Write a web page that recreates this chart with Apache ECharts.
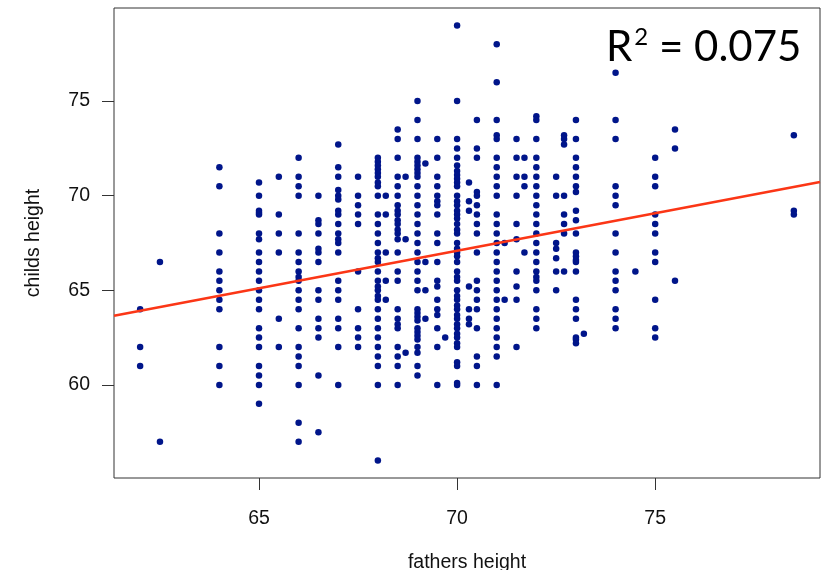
<!DOCTYPE html>
<html>
<head>
<meta charset="utf-8">
<script src="https://cdn.jsdelivr.net/npm/echarts@6/dist/echarts.min.js"></script>
<style>
  html, body { margin: 0; padding: 0; background: #fff; }
  #chart { width: 833px; height: 570px; }
</style>
</head>
<body>
<div id="chart"></div>
<script>
// Father heights (inches), one entry per column of points
const fatherLevels = [62, 62.5, 64, 65, 65.5, 66, 66.5, 67, 67.5, 68, 68.2, 68.5, 68.7, 69, 69.2, 69.5, 69.7,
  70, 70.3, 70.5, 71, 71.2, 71.5, 71.7, 72, 72.5, 72.7, 73, 73.2, 74, 74.5, 75, 75.5, 78.5];

// Child heights (inches) observed for each father height above
const childByFather = [
  [64, 62, 61],
  [66.5, 57],
  [71.5, 70.5, 68, 67, 66, 65.5, 65, 64.5, 64, 62, 61, 60],
  [70.7, 70, 69.2, 69.1, 69, 68, 67.7, 67, 66.5, 66, 65.5, 65, 64.5, 64, 63, 62.5, 62, 61, 60.5, 60, 59],
  [71, 69, 68, 67, 63.5, 62],
  [72, 71, 70.5, 70, 68, 67, 66.5, 66, 65.7, 65.5, 65, 64.5, 64, 63, 62, 61.5, 61, 60, 58, 57],
  [70, 68.7, 68.5, 68, 67.2, 67, 66.5, 65, 64.5, 63.5, 63, 62.5, 60.5, 57.5],
  [72.7, 71.5, 71, 70.3, 70, 69.8, 69.2, 69, 68.5, 68, 67.7, 67.5, 67, 65.5, 65, 64.5, 63.5, 63, 62, 60],
  [71, 70, 69.5, 69, 68.5, 66, 64, 63, 62.5, 62],
  [72, 71.8, 71.6, 71.4, 71.2, 71, 70.7, 70.5, 70, 69, 68.5, 68, 67.5, 67, 66.7, 66.5, 66, 65.5, 65.2, 65,
    64.7, 64.5, 64, 63.5, 63, 62.5, 62, 61.5, 61, 60, 56],
  [70, 69, 67, 65.5, 64.5],
  [73.5, 73, 72, 71, 70.5, 70, 69.5, 69.2, 69, 68.7, 68.5, 68.2, 68, 67.7, 67, 66, 65.5, 64, 63.5, 63.2, 63,
    62, 61.5, 61, 60],
  [71, 67.7, 61.7],
  [75, 74, 73, 72, 71.8, 71.6, 71.4, 71.2, 71, 70.5, 70, 69.5, 69, 68.5, 68, 67.5, 67, 66.5, 66, 65.5, 65,
    64, 63.8, 63.6, 63.4, 63, 62.8, 62.6, 62.4, 62, 61.7, 61, 60.5],
  [71.7, 66.5, 65, 63.5],
  [73, 72, 71, 70.5, 70, 69.7, 69.5, 69, 68, 67.5, 66.5, 65.5, 65.2, 64.5, 64, 63.7, 63, 62, 60],
  [62.5],
  [79, 75, 73, 72.5, 72, 71.6, 71.3, 71.1, 70.9, 70.7, 70.5, 70, 69.7, 69.5, 69.2, 69, 68.8, 68.5, 68.2, 68,
    67.5, 67.2, 67, 66.8, 66.5, 66, 65.7, 65.5, 65, 64.7, 64.5, 64.2, 64, 63.7, 63.5, 63.2, 63, 62.7, 62.5,
    62.2, 62, 61.2, 61, 60.1, 60],
  [70.7, 69.7, 69.2, 65.2, 64, 63.5, 63.2],
  [74, 72.5, 72, 70.2, 70, 69.5, 69, 68.5, 68, 67, 65.5, 65, 64.5, 64, 63, 61.5, 61, 60],
  [78, 76, 74, 73.2, 73, 72, 71.5, 71, 70.5, 70, 69, 68.5, 68, 67.5, 67, 66.5, 66, 65.5, 65, 64.5, 64, 63.5,
    63, 62.5, 62, 61.5, 60],
  [67.5, 64.5],
  [73, 72, 71, 70, 68.5, 67.7, 66, 65.2, 64.5, 62],
  [72, 71, 70.5, 67],
  [74.2, 74, 73, 72, 71.5, 71, 70.5, 70, 69.5, 69, 68.5, 68, 67.5, 67, 66.5, 66, 65.7, 65.5, 65, 64, 63.5, 63],
  [71, 70, 67.5, 67.2, 66.7, 66, 65],
  [73.2, 73, 72.7, 70, 69, 68.5, 68, 66],
  [74, 73, 72, 71.5, 71, 70.5, 70.2, 69.2, 68.7, 68, 67, 66.8, 66.6, 66.5, 66, 64.5, 64, 63.5, 62.5, 62.4, 62.2],
  [62.7],
  [76.5, 74, 73, 70.5, 70, 69.5, 68, 67, 66, 65.5, 65, 64, 63.5, 63],
  [66],
  [72, 71, 70.5, 69, 68.5, 68, 67, 66.5, 64.5, 63, 62.5],
  [73.5, 72.5, 65.5],
  [73.2, 69.2, 69]
];

// Least-squares fit of child height on father height
const fitIntercept = 39.3;
const fitSlope = 0.397;
const rSquaredText = '0.075';

// Axis ranges and tick labels
const xRange = [61.34, 79.16];
const yRange = [55.08, 79.92];
const xTicks = [65, 70, 75];
const yTicks = [60, 65, 70, 75];

const points = [];
fatherLevels.forEach((f, i) => {
  childByFather[i].forEach(c => points.push([f, c]));
});
const fitLine = xRange.map(x => [x, fitIntercept + fitSlope * x]);

const axisFont = "'Liberation Sans', Arial, sans-serif";
const chart = echarts.init(document.getElementById('chart'), null, { renderer: 'canvas' });

chart.setOption({
  animation: false,
  backgroundColor: '#ffffff',
  grid: {
    left: 114, top: 8, width: 706, height: 470,
    outerBoundsMode: 'none',
    containLabel: false,
    show: true, borderColor: '#333', borderWidth: 1, backgroundColor: 'transparent'
  },
  xAxis: {
    type: 'value',
    min: xRange[0], max: xRange[1],
    name: 'fathers height',
    nameLocation: 'middle',
    nameGap: 75,
    nameTextStyle: { fontFamily: axisFont, fontSize: 19.5, color: '#111' },
    axisLine: { show: false },
    splitLine: { show: false },
    axisTick: { show: true, inside: false, length: 12, customValues: xTicks, lineStyle: { color: '#333', width: 1 } },
    axisLabel: { customValues: xTicks, margin: 31, fontFamily: axisFont, fontSize: 19.5, color: '#111' }
  },
  yAxis: {
    type: 'value',
    min: yRange[0], max: yRange[1],
    name: 'childs height',
    nameLocation: 'middle',
    nameGap: 70,
    nameRotate: 90,
    nameTextStyle: { fontFamily: axisFont, fontSize: 19.5, color: '#111' },
    axisLine: { show: false },
    splitLine: { show: false },
    axisTick: { show: true, inside: false, length: 12, customValues: yTicks, lineStyle: { color: '#333', width: 1 } },
    axisLabel: { customValues: yTicks, margin: 24, fontFamily: axisFont, fontSize: 19.5, color: '#111' }
  },
  series: [
    {
      type: 'scatter',
      data: points,
      symbol: 'circle',
      symbolSize: 6.5,
      itemStyle: { color: '#00158a', opacity: 1 },
      z: 2
    },
    {
      type: 'line',
      data: fitLine,
      showSymbol: false,
      symbol: 'none',
      lineStyle: { color: '#fb3616', width: 2.5 },
      clip: true,
      z: 3
    }
  ],
  graphic: [
    {
      type: 'text',
      x: 606,
      y: 22,
      z: 10,
      style: {
        text: '{a|R}{b|2}{a| = ' + rSquaredText + '}',
        fill: '#000',
        rich: {
          a: { fontFamily: 'Lato, "Open Sans", sans-serif', fontSize: 42, lineHeight: 50, fill: '#000' },
          b: { fontFamily: 'Lato, "Open Sans", sans-serif', fontSize: 24, lineHeight: 50, verticalAlign: 'top', padding: [3, 0, 0, 2], fill: '#000' }
        }
      }
    }
  ]
});
</script>
</body>
</html>
